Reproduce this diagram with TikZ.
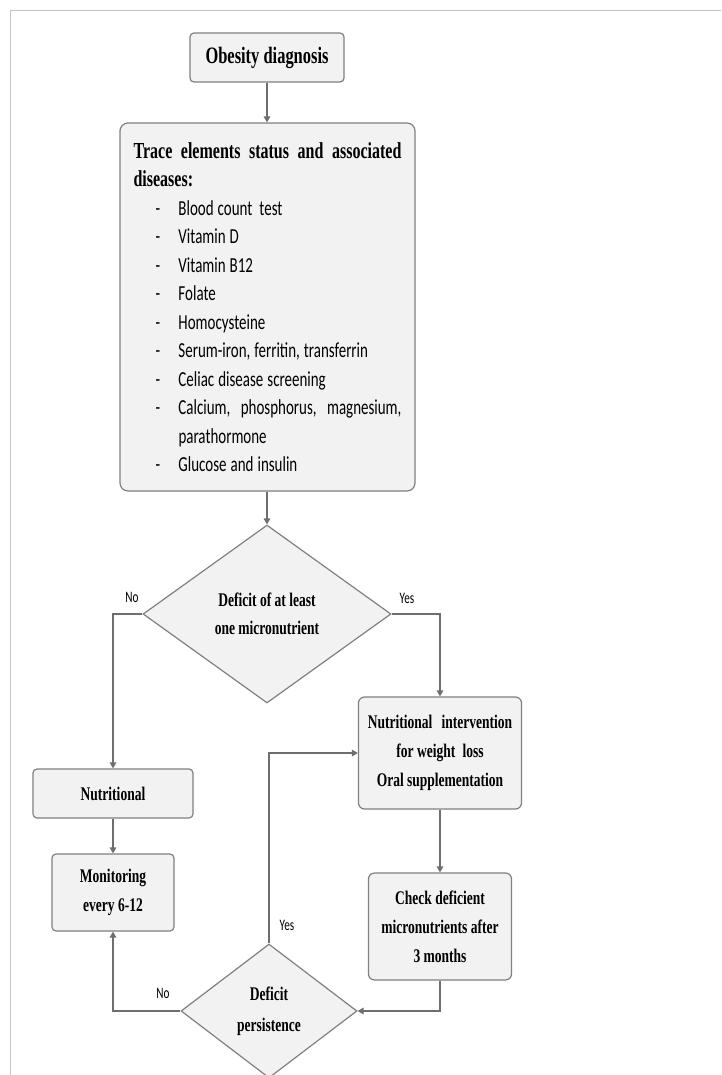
\documentclass[tikz,border=0pt]{standalone}
\usepackage{fontspec}
\setmainfont{Liberation Serif}[FakeStretch=0.7]
\newfontfamily\calib{Carlito}[FakeStretch=0.7]
\usetikzlibrary{shapes.geometric,arrows.meta}
\definecolor{boxfill}{HTML}{F2F2F2}
\definecolor{boxdraw}{HTML}{808080}
\definecolor{arrowc}{HTML}{6E6E6E}
\definecolor{framec}{HTML}{C4C4C4}
\begin{document}
\begin{tikzpicture}[x=1pt,y=-1pt,
 box/.style={draw=boxdraw,fill=boxfill,line width=1.2pt,rounded corners=4pt,inner sep=0pt,align=center},
 dia/.style={draw=boxdraw,fill=boxfill,line width=1.2pt,diamond,inner sep=0pt,align=center},
 arr/.style={draw=arrowc,line width=1.6pt,-{Triangle[length=6pt,width=6.5pt]}},
 lbl/.style={font=\calib\fontsize{16}{18}\selectfont,inner sep=0pt},
 serifb/.style={font=\bfseries\fontsize{19.3}{29}\selectfont}]
\useasboundingbox (0,0) rectangle (721,1075);
\fill[white] (0,0) rectangle (721,1075);
\draw[framec,line width=1pt] (10,1075) -- (10,11) -- (721,11);

\node[box,minimum width=154pt,minimum height=49pt,font=\bfseries\fontsize{23.5}{26}\selectfont] (obes) at (267,57.5) {Obesity diagnosis};

\node[box,rounded corners=8pt,minimum width=295pt,minimum height=368pt,text width=268pt,align=left,font=\calib\fontsize{21.4}{28.5}\selectfont] (trace) at (267.5,307) {%
\spaceskip=4pt plus 1pt minus 1pt\relax
{\bfseries\rmfamily\fontsize{22.9}{28.5}\selectfont\makebox[268pt][l]{Trace\hfill elements\hfill status\hfill and\hfill associated}}\\
{\bfseries\rmfamily\fontsize{22.9}{28.5}\selectfont diseases:}\\
\hspace*{22pt}\makebox[23pt][l]{-}Blood count\hspace{7pt}test\\
\hspace*{22pt}\makebox[23pt][l]{-}Vitamin D\\
\hspace*{22pt}\makebox[23pt][l]{-}Vitamin B12\\
\hspace*{22pt}\makebox[23pt][l]{-}Folate\\
\hspace*{22pt}\makebox[23pt][l]{-}Homocysteine\\
\hspace*{22pt}\makebox[23pt][l]{-}Serum-iron, ferritin, transferrin\\
\hspace*{22pt}\makebox[23pt][l]{-}Celiac disease screening\\
\hspace*{22pt}\makebox[23pt][l]{-}\makebox[223pt][l]{Calcium,\hfill phosphorus,\hfill magnesium,}\\
\hspace*{45pt}parathormone\\
\hspace*{22pt}\makebox[23pt][l]{-}Glucose and insulin};

\node[dia,minimum width=248pt,minimum height=178pt,font=\bfseries\fontsize{19.3}{28}\selectfont] (d1) at (267,614) {Deficit of at least\\one micronutrient};

\node[box,serifb,minimum width=160pt,minimum height=49pt] (nut) at (113,793.5) {Nutritional};
\node[box,serifb,minimum width=122pt,minimum height=77pt] (mon) at (113,892.5) {Monitoring\\every 6-12};
\node[box,serifb,rounded corners=6pt,minimum width=163pt,minimum height=112pt] (int) at (440,753) {Nutritional\hspace{0.3em} intervention\\for weight\hspace{0.2em} loss\\Oral supplementation};
\node[box,serifb,rounded corners=6pt,minimum width=143pt,minimum height=107pt] (chk) at (440,926.5) {Check deficient\\micronutrients after\\3 months};
\node[dia,minimum width=176pt,minimum height=134pt,font=\bfseries\fontsize{19.3}{31}\selectfont] (d2) at (269,1011) {Deficit\\persistence};

\node[lbl] (no1) at (132,597) {No};
\node[lbl] (yes1) at (407,598) {Yes};
\node[lbl] (yes2) at (287,925) {Yes};
\node[lbl] (no2) at (163,993) {No};

\draw[arr] (obes.south) -- (obes.south |- trace.north);
\draw[arr] (trace.south -| d1.north) -- (d1.north);
\draw[arr] (d1.west) -| (nut.north);
\draw[arr] (d1.east) -| (int.north);
\draw[arr] (nut.south) -- (mon.north);
\draw[arr] (int.south) -- (chk.north);
\draw[arr] (chk.south) |- (d2.east);
\draw[arr] (d2.north) |- (int.west);
\draw[arr] (d2.west) -| (mon.south);
\end{tikzpicture}
\end{document}
